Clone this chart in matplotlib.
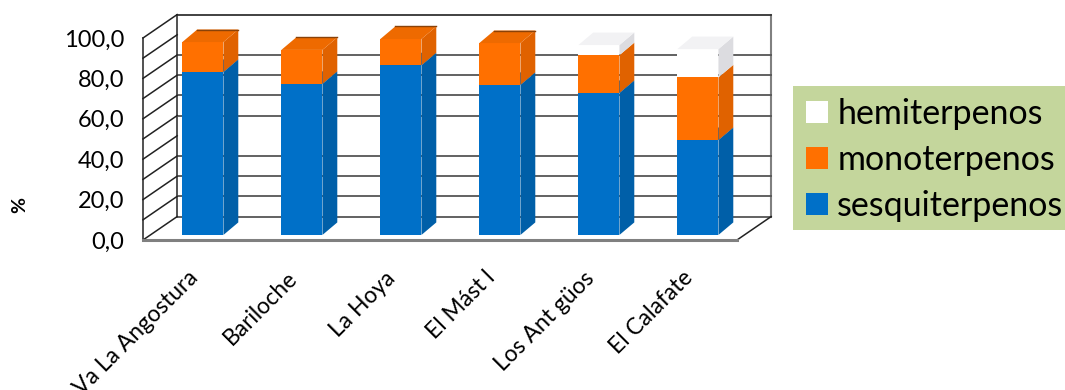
import numpy as np
from matplotlib import pyplot as plt
from matplotlib.patches import Patch, Polygon, Rectangle

plt.rcParams['font.family'] = ['Lato', 'DejaVu Sans']

sites = ['Va La Angostura', 'Bariloche', 'La Hoya', 'El Mást l', 'Los Ant güos', 'El Calafate']
sesqui = [80.7, 74.8, 84.0, 74.3, 70.3, 47.0]
mono = [14.8, 16.8, 13.0, 20.7, 18.7, 31.0]
hemi = [0.0, 0.0, 0.0, 0.0, 5.0, 14.0]

y_ticks = [0, 20, 40, 60, 80, 100]
y_labels = ['0,0', '20,0', '40,0', '60,0', '80,0', '100,0']
grid_levels = [0, 10, 20, 30, 50, 60, 70, 80, 100]
depth_levels = [0, 10, 20, 30, 40, 50, 60, 70, 80, 90, 100]

series = [
    ('sesquiterpenos', sesqui, '#0070C8', '#005FA8', '#0066B8'),
    ('monoterpenos', mono, '#FF7000', '#E06200', '#EE6A00'),
    ('hemiterpenos', hemi, '#FFFFFF', '#DCDCE0', '#F2F2F4'),
]

# depth of the box and of each bar, in data units
BOX_DX, BOX_DY = 0.345, 11.6
BAR_DX, BAR_DY = 0.15, 6.2
BAR_SHIFT, BAR_LIFT = 0.105, 2.5
BAR_W = 0.415

fig = plt.figure(figsize=(10.65, 3.9), dpi=100)
ax = fig.add_axes([143 / 1065, 150 / 390, 594 / 1065, 202 / 390])
ax.set_xlim(0, 6)
ax.set_ylim(0, 100)
for s in ax.spines.values():
    s.set_visible(False)

# back wall and side lines
ax.plot([BOX_DX, BOX_DX], [BOX_DY, 100 + BOX_DY], color='#333333', lw=1.2, clip_on=False, zorder=1)
ax.plot([6 + BOX_DX, 6 + BOX_DX], [BOX_DY, 100 + BOX_DY], color='#808080', lw=1.5, clip_on=False, zorder=1)
ax.plot([0, 0], [0, 100], color='#333333', lw=1.2, clip_on=False, zorder=1)
for lev in grid_levels:
    c = '#333333' if lev == 100 else '#555555'
    ax.plot([BOX_DX, 6 + BOX_DX], [lev + BOX_DY] * 2, color=c, lw=1.3, clip_on=False, zorder=1)
for lev in depth_levels:
    ax.plot([0, BOX_DX], [lev, lev + BOX_DY], color='#222222', lw=1.1, clip_on=False, zorder=1)
ax.plot([6, 6 + BOX_DX], [0, BOX_DY], color='#222222', lw=1.1, clip_on=False, zorder=1)
ax.plot([0, 6], [0, 0], color='#808080', lw=2.2, clip_on=False, zorder=1)

# stacked bars, front face plus side and top faces
centers = np.arange(len(sites)) + 0.5 + BAR_SHIFT
bottom = np.zeros(len(sites))
for name, vals, front, side, top in series:
    vals = np.array(vals)
    ax.bar(centers, vals, BAR_W, bottom=bottom + BAR_LIFT, color=front, clip_on=False, zorder=3)
    for i, c in enumerate(centers):
        if vals[i] == 0:
            continue
        x1 = c + BAR_W / 2
        y0 = bottom[i] + BAR_LIFT
        y1 = y0 + vals[i]
        ax.add_patch(Polygon([(x1, y0), (x1 + BAR_DX, y0 + BAR_DY), (x1 + BAR_DX, y1 + BAR_DY), (x1, y1)],
                             facecolor=side, edgecolor='none', clip_on=False, zorder=3))
    bottom = bottom + vals
    for i, c in enumerate(centers):
        # only the uppermost segment of a bar shows its top face
        if vals[i] == 0 or (name == 'monoterpenos' and hemi[i] > 0):
            continue
        x0, x1 = c - BAR_W / 2, c + BAR_W / 2
        y1 = bottom[i] + BAR_LIFT
        ax.add_patch(Polygon([(x0, y1), (x1, y1), (x1 + BAR_DX, y1 + BAR_DY), (x0 + BAR_DX, y1 + BAR_DY)],
                             facecolor=top, edgecolor='none', clip_on=False, zorder=3))
        if name == 'monoterpenos':
            ax.plot([x0 + BAR_DX, x1 + BAR_DX], [y1 + BAR_DY] * 2, color='#8A4208', lw=1, clip_on=False, zorder=4)

ax.set_yticks(y_ticks)
ax.set_yticklabels(y_labels, fontsize=17, color='black')
ax.tick_params(axis='y', length=0, pad=13.5)
ax.set_xticks(np.arange(len(sites)) + 0.52)
ax.set_xticklabels(sites, rotation=45, ha='right', va='center', rotation_mode='anchor',
                   fontsize=16.5, color='black')
ax.tick_params(axis='x', length=0, pad=25)

fig.text(20 / 1065, 1 - 205 / 390, '%', rotation=90, fontsize=14, fontweight='bold',
         ha='center', va='center')

# legend panel runs to the right edge of the figure
fig.patches.append(Rectangle((793 / 1065, 1 - 230 / 390), 272 / 1065, 144 / 390, transform=fig.transFigure,
                             facecolor='#C4D69C', edgecolor='none', figure=fig))
handles = [Patch(facecolor=front, edgecolor='none', label=name) for name, _, front, _, _ in series[::-1]]
leg = fig.legend(handles=handles, loc='upper left', bbox_to_anchor=(806 / 1065, 1 - 98 / 390),
                 borderaxespad=0, borderpad=0, fontsize=24.5, frameon=False,
                 handlelength=0.64, handleheight=0.64, handletextpad=0.28, labelspacing=0.41)

fig.savefig('out.png', dpi=100)
